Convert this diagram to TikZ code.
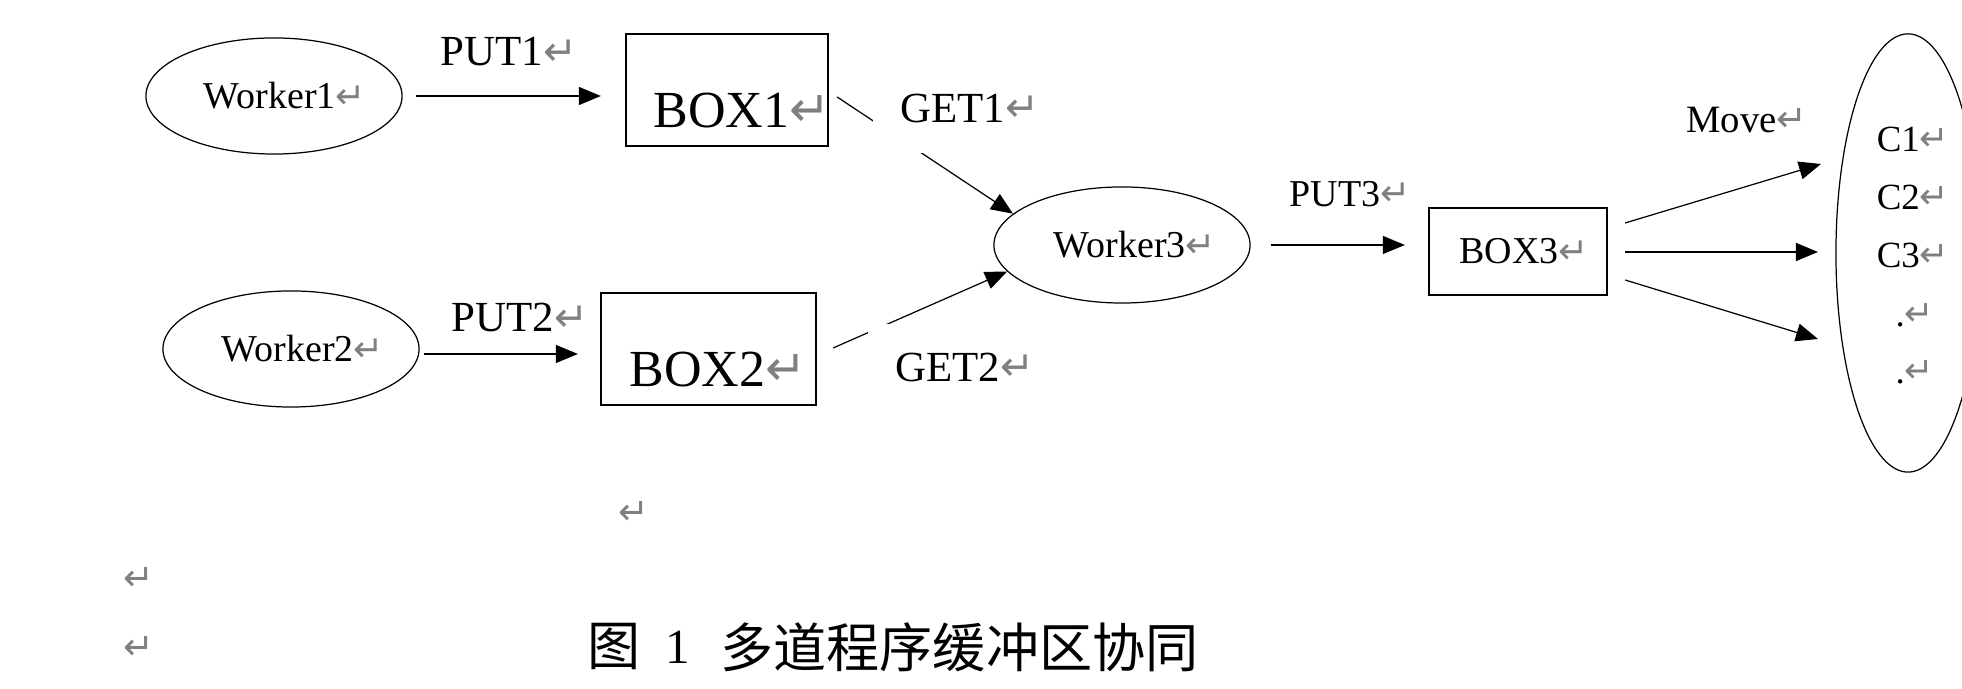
\documentclass[tikz,border=0pt]{standalone}
\usepackage{fontspec}
\setmainfont{Liberation Serif}
\newfontfamily\pmfont[Scale=0.95]{DejaVu Sans}
\newfontfamily\cjk{Noto Sans CJK SC}
\usetikzlibrary{arrows.meta,calc,shapes.geometric}
\definecolor{pmgray}{RGB}{128,128,128}
\newcommand\parmark{{\pmfont\color{pmgray}\raisebox{0.02em}{↵}}}
\tikzset{
  wk/.style={draw, ellipse, line width=0.35pt, inner sep=0pt, minimum width=2.56cm, minimum height=1.16cm, font=\fontsize{10.8}{13}\selectfont},
  bx/.style={draw, rectangle, line width=0.6pt, inner sep=0pt},
  bigtext/.style={inner sep=0pt, font=\fontsize{14.8}{17}\selectfont},
  lbl/.style={inner sep=0pt, font=\fontsize{12.2}{14}\selectfont},
  smalllbl/.style={inner sep=0pt, font=\fontsize{10.8}{13}\selectfont},
  ctext/.style={inner sep=0pt, font=\fontsize{10.5}{12}\selectfont},
  pmk/.style={inner sep=0pt, font=\fontsize{11}{13}\selectfont},
  arr/.style={-{Triangle[length=0.22cm,width=0.18cm]}, line width=0.35pt},
}
\begin{document}
\begin{tikzpicture}[x=0.01cm,y=-0.01cm]
\fill[white] (0,0) rectangle (1962,689);
\clip (0,0) rectangle (1962,689);

% workers
\node[wk] (w1) at (274,96) {\makebox[0pt]{\hspace{0.22cm}Worker1\parmark}};
\node[wk] (w2) at (291,349) {\makebox[0pt]{\hspace{0.24cm}Worker2\parmark}};
\node[wk] (w3) at (1122,245) {\makebox[0pt]{\hspace{0.26cm}Worker3\parmark}};

% boxes
\node[bx, minimum width=2.02cm, minimum height=1.12cm] (b1) at (727,90) {};
\node[bigtext] (b1t) at (742,111) {BOX1\parmark};
\node[bx, minimum width=2.15cm, minimum height=1.12cm] (b2) at (708.5,349) {};
\node[bigtext] (b2t) at (718,370) {BOX2\parmark};
\node[bx, minimum width=1.78cm, minimum height=0.87cm, font=\fontsize{10.8}{13}\selectfont] (b3) at (1518,251.5) {\hspace{0.12cm}BOX3\parmark};

% consumers ellipse
\node[draw, ellipse, line width=0.35pt, minimum width=1.44cm, minimum height=4.38cm, inner sep=0pt] (cc) at (1908,253) {};
\node[ctext] (c1) at (1913,139) {C1\parmark};
\node[ctext] (c2) at (1913,197) {C2\parmark};
\node[ctext] (c3) at (1913,255) {C3\parmark};
\node[ctext] (d1) at (1915,315) {.\parmark};
\node[ctext] (d2) at (1915,372) {.\parmark};

% connectors
\draw[arr, shorten <=0.13cm, shorten >=0.24cm] (w1.east) -- (w1.east -| b1.west);
\draw[arr, shorten <=0.04cm, shorten >=0.22cm] ($(w2.east)+(0,5)$) -- ($(w2.east -| b2.west)+(0,5)$);
\draw[arr, shorten <=0.2cm, shorten >=0.23cm] (w3.east) -- (w3.east -| b3.west);
\draw[arr] ($(b1.east)+(8,7)$) -- (w3.164);
\draw[arr] ($(b2.east)+(16,-1)$) -- (w3.193);

\coordinate (m1) at (1821,164);
\coordinate (m2) at (1818,252);
\coordinate (m3) at (1818,339);
\draw[arr] ($(b3.east)+(17,-28.5)$) -- (m1);
\draw[arr] ($(b3.east)+(17,0.5)$) -- (m2);
\draw[arr] ($(b3.east)+(17,28.5)$) -- (m3);

% labels
\node[lbl] (put1) at (509,52) {PUT1\parmark};
\node[lbl] (put2) at (520,318) {PUT2\parmark};
\node[lbl, fill=white, anchor=south west, minimum width=1.94cm, minimum height=0.9cm] (get1) at (872,154) {GET1\parmark};
\node[lbl, fill=white, anchor=north west, minimum width=1.94cm, minimum height=0.88cm] (get2) at (867,323) {GET2\parmark};
\node[smalllbl] (put3) at (1350,194) {PUT3\parmark};
\node[inner sep=0pt, font=\fontsize{11}{13}\selectfont] (move) at (1747,120) {Move\parmark};

% stray paragraph marks
\node[pmk] (p1) at (634,513) {\parmark};
\node[pmk] (p2) at (139,579) {\parmark};
\node[pmk] (p3) at (139,648) {\parmark};

% caption
\node[inner sep=0pt, font=\cjk\fontsize{15.1}{18}\selectfont] (capa) at (614,647) {图};
\node[inner sep=0pt, font=\fontsize{14}{16}\selectfont] (capb) at (678,647) {1};
\node[inner sep=0pt, font=\cjk\fontsize{15.1}{18}\selectfont] (capc) at (959.5,647) {多道程序缓冲区协同};
\end{tikzpicture}
\end{document}
